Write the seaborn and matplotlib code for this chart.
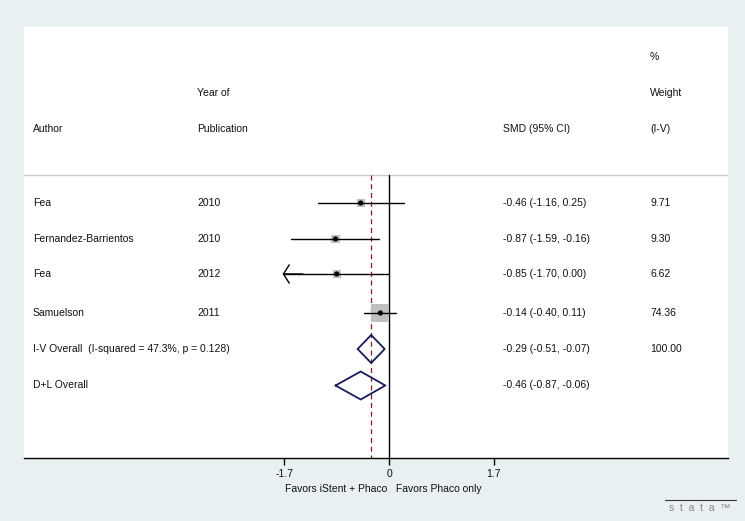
import matplotlib
matplotlib.use("Agg")
import matplotlib.pyplot as plt
import seaborn as sns
import pandas as pd

sns.set_theme(style="white")
plt.rcParams['font.family'] = ['Liberation Sans', 'DejaVu Sans']

authors = ["Fea", "Fernandez-Barrientos", "Fea", "Samuelson"]
years = ["2010", "2010", "2012", "2011"]
smd = [-0.46, -0.87, -0.85, -0.14]
ci_low = [-1.16, -1.59, -1.70, -0.40]
ci_high = [0.25, -0.16, 0.00, 0.11]
weights = [9.71, 9.30, 6.62, 74.36]
ci_text = ["-0.46 (-1.16, 0.25)", "-0.87 (-1.59, -0.16)", "-0.85 (-1.70, 0.00)", "-0.14 (-0.40, 0.11)"]
weight_text = ["9.71", "9.30", "6.62", "74.36"]

overall_labels = ["I-V Overall  (I-squared = 47.3%, p = 0.128)", "D+L Overall"]
overall_est = [-0.29, -0.46]
overall_low = [-0.51, -0.87]
overall_high = [-0.07, -0.06]
overall_ci_text = ["-0.29 (-0.51, -0.07)", "-0.46 (-0.87, -0.06)"]
overall_weight_text = ["100.00", ""]

xticks = [-1.7, 0, 1.7]
xtick_labels = ["-1.7", "0", "1.7"]

# layout (pixel geometry)
W, H = 745, 521
X0PX, SCALE = 389.0, 61.5
def px(x):
    return (x - X0PX) / SCALE

row_y = [203, 239, 274, 313]
ov_y = [349, 385.5]
COL_AUTH, COL_YEAR, COL_CI, COL_W = 33, 197, 503, 650

bg = "#e8f0f1"
fig = plt.figure(figsize=(W / 100, H / 100), dpi=100, facecolor=bg)
ax = fig.add_axes([24 / W, (H - 458) / H, (728 - 24) / W, (458 - 27) / H])
ax.set_facecolor("white")
ax.set_xlim(px(24), px(728))
ax.set_ylim(458, 27)

fs = 7.5
tc = "#111111"
def txt(xp, y, s):
    ax.text(px(xp), y, s, fontsize=fs, va="center", color=tc)

# headers
txt(COL_W, 57, "%")
txt(COL_YEAR, 93, "Year of")
txt(COL_W, 93, "Weight")
txt(COL_AUTH, 129, "Author")
txt(COL_YEAR, 129, "Publication")
txt(COL_CI, 129, "SMD (95% CI)")
txt(COL_W, 129, "(I-V)")
ax.axhline(175, color="#cccccc", lw=1.0)

# reference lines
ax.plot([0, 0], [175, 458], color="black", lw=1.0, zorder=2)
ax.plot([overall_est[0]] * 2, [175, 458], color="#8b1a1a", lw=0.9, ls=(0, (4, 3)), zorder=2)

# study rows
df = pd.DataFrame({"smd": smd, "y": row_y, "w": weights})
sns.scatterplot(data=df, x="smd", y="y", size="w", sizes=(30, 168),
                marker="s", color="#bfbfbf", edgecolor="none", legend=False, ax=ax, zorder=3)
for i in range(len(authors)):
    y = row_y[i]
    ax.plot([ci_low[i], ci_high[i]], [y, y], color="black", lw=1.0, zorder=4)
    if ci_low[i] <= -1.7:
        ax.annotate("", xy=(ci_low[i] - 0.03, y), xytext=(ci_low[i] + 0.3, y),
                    arrowprops=dict(arrowstyle="->,head_length=0.35,head_width=0.55",
                                    color="black", lw=1.0, shrinkA=0, shrinkB=0), zorder=4)
    txt(COL_AUTH, y, authors[i])
    txt(COL_YEAR, y, years[i])
    txt(COL_CI, y, ci_text[i])
    txt(COL_W, y, weight_text[i])
sns.scatterplot(x=smd, y=row_y, color="black", s=14, edgecolor="none", legend=False, ax=ax, zorder=5)

# overall diamonds
for j in range(len(overall_labels)):
    y = ov_y[j]
    hh = 14
    ax.plot([overall_low[j], overall_est[j], overall_high[j], overall_est[j], overall_low[j]],
            [y, y - hh, y, y + hh, y], color="#1a1a5e", lw=1.3, zorder=5)
    txt(COL_AUTH, y, overall_labels[j])
    txt(COL_CI, y, overall_ci_text[j])
    txt(COL_W, y, overall_weight_text[j])

# axes styling
for s in ["top", "left", "right"]:
    ax.spines[s].set_visible(False)
ax.spines["bottom"].set_color("black")
ax.spines["bottom"].set_linewidth(1.0)
ax.set_yticks([])
ax.set_ylabel("")
ax.set_xticks(xticks)
ax.set_xticklabels(xtick_labels, fontsize=fs, color=tc)
ax.tick_params(axis="x", bottom=True, direction="out", length=5, width=1.0, color="black", pad=3)
ax.set_xlabel("Favors iStent + Phaco   Favors Phaco only", fontsize=fs, labelpad=2, color=tc)
ax.xaxis.set_label_coords((383 - 24) / (728 - 24), -(489 - 458) / (458 - 27))
ax.xaxis.label.set_va("center")

# stata logo
fig.add_artist(plt.Line2D([665 / W, 736 / W], [(H - 500) / H] * 2, color="#333333", lw=0.8))
fig.text(700 / W, (H - 508) / H, "s  t  a  t  a  ™", fontsize=7.5, color="#888888",
         ha="center", va="center", fontweight="light")

fig.savefig("out.png", dpi=100, facecolor=bg)
